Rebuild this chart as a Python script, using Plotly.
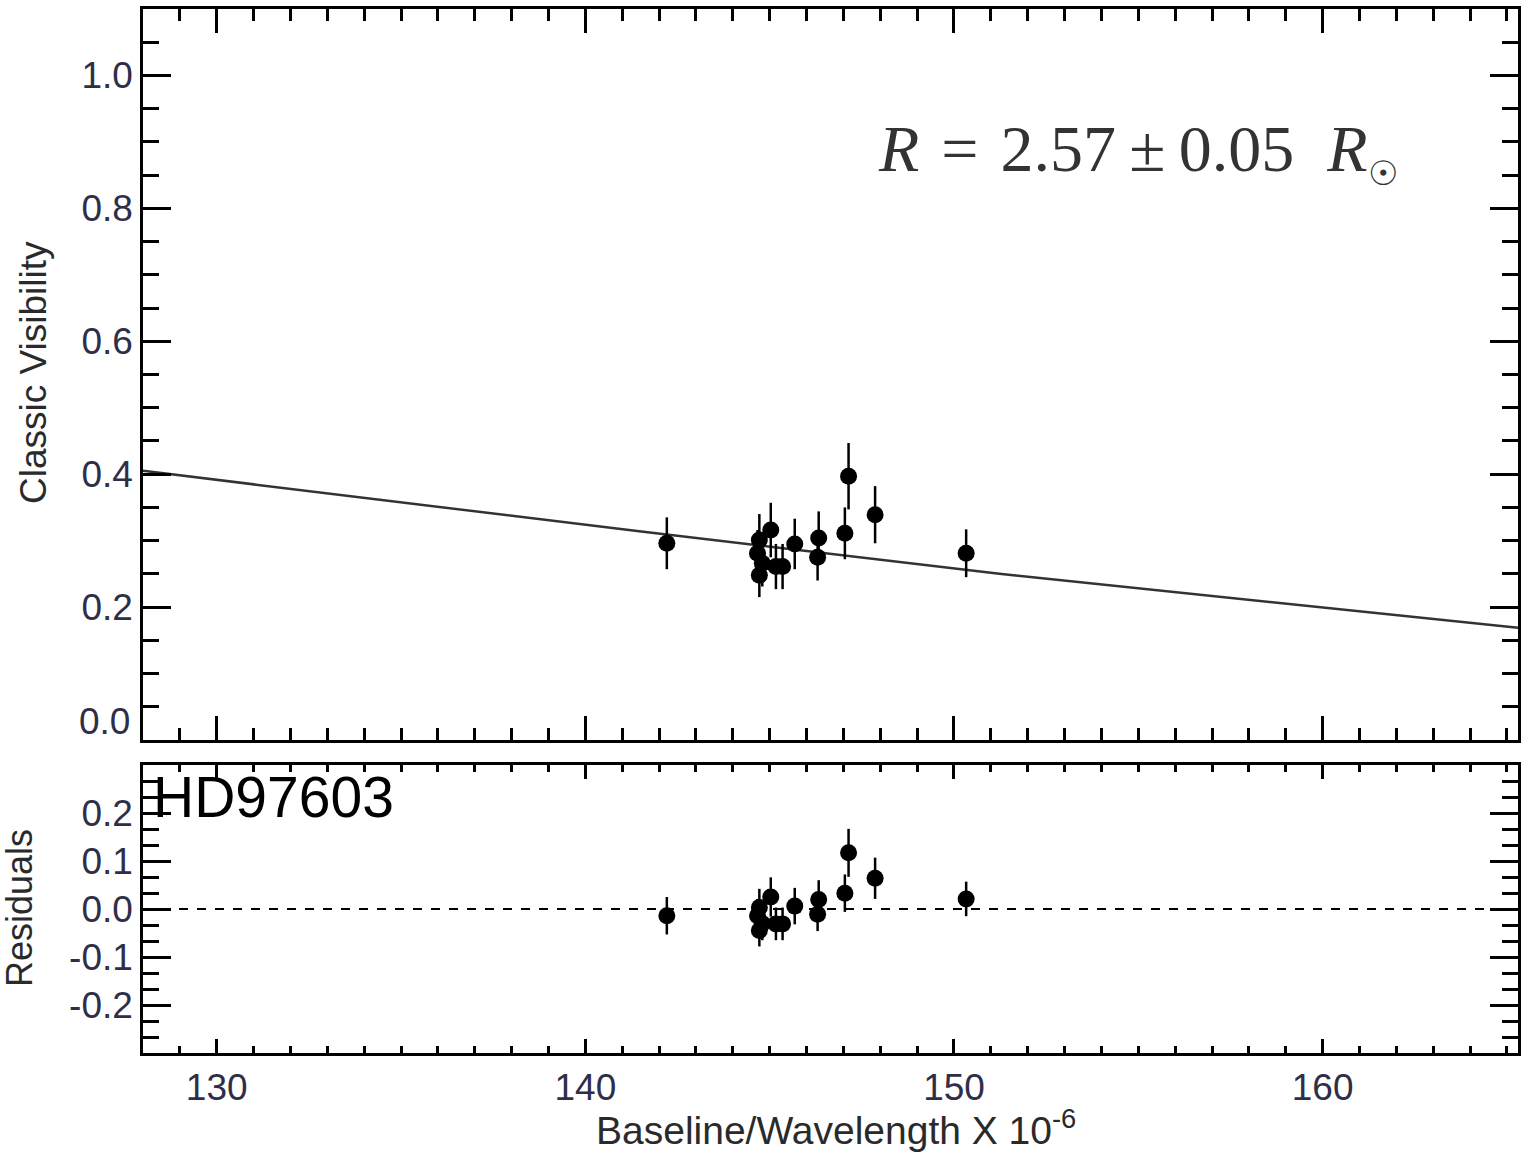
import plotly.graph_objects as go

# ---- data ----
baseline = [142.21, 144.72, 144.67, 144.72, 144.80, 145.03, 145.17, 145.35,
            145.68, 146.33, 146.30, 147.04, 147.14, 147.86, 150.33]
visibility = [0.296, 0.301, 0.281, 0.248, 0.266, 0.316, 0.261, 0.261,
              0.295, 0.304, 0.275, 0.311, 0.397, 0.339, 0.281]
vis_err = [0.039, 0.039, 0.035, 0.033, 0.035, 0.041, 0.034, 0.034,
           0.038, 0.040, 0.035, 0.039, 0.050, 0.043, 0.036]
residuals = [-0.014, 0.003, -0.014, -0.045, -0.030, 0.025, -0.031, -0.031,
             0.006, 0.020, -0.011, 0.033, 0.117, 0.064, 0.021]

model_x = [128.0, 141.46, 151.23, 165.3]
model_v = [0.405, 0.314, 0.250, 0.169]

x_range = [128.0, 165.3]
x_tickvals = [130, 140, 150, 160]
x_ticktext = ["130", "140", "150", "160"]
y1_tickvals = [0.0, 0.2, 0.4, 0.6, 0.8, 1.0]
y1_ticktext = ["", "0.2", "0.4", "0.6", "0.8", "1.0"]
y2_tickvals = [-0.2, -0.1, 0.0, 0.1, 0.2]
y2_ticktext = ["-0.2", "-0.1", "0.0", "0.1", "0.2"]

W, H = 1527, 1152
L, R = 143, 1518
T1, B1 = 9, 740
T2, B2 = 765, 1053

FAM = "Liberation Sans, Arial, sans-serif"
tick_font = dict(family=FAM, size=37, color="#2e2e48")
title_font = dict(family=FAM, size=37, color="#2a2a2a")

fig = go.Figure()

fig.add_trace(go.Scatter(x=model_x, y=model_v, mode="lines",
                         line=dict(color="#333333", width=2.5),
                         xaxis="x", yaxis="y", showlegend=False, hoverinfo="skip"))
fig.add_trace(go.Scatter(x=baseline, y=visibility, mode="markers",
                         marker=dict(color="black", size=17),
                         error_y=dict(type="data", array=vis_err, color="black",
                                      thickness=2.5, width=0),
                         xaxis="x", yaxis="y", showlegend=False))
fig.add_trace(go.Scatter(x=x_range, y=[0, 0], mode="lines",
                         line=dict(color="black", width=2, dash="dash"),
                         xaxis="x2", yaxis="y2", showlegend=False, hoverinfo="skip"))
fig.add_trace(go.Scatter(x=baseline, y=residuals, mode="markers",
                         marker=dict(color="black", size=17),
                         error_y=dict(type="data", array=vis_err, color="black",
                                      thickness=2.5, width=0),
                         xaxis="x2", yaxis="y2", showlegend=False))

xd = [L / W, R / W]
common_x = dict(range=x_range, showgrid=False, zeroline=False, showline=True,
                linecolor="black", linewidth=2.5, mirror="allticks", ticks="inside",
                tickcolor="black", tickwidth=2.5, tickvals=x_tickvals,
                ticktext=x_ticktext, tickfont=tick_font, domain=xd)
fig.update_layout(
    width=W, height=H,
    margin=dict(l=0, r=0, t=0, b=0),
    paper_bgcolor="white", plot_bgcolor="white",
    xaxis=dict(**common_x, anchor="y", ticklen=24, showticklabels=False,
               minor=dict(dtick=1, ticklen=12, ticks="inside", tickcolor="black", tickwidth=2.5, showgrid=False)),
    xaxis2=dict(**common_x, anchor="y2", ticklen=14, showticklabels=True,
                minor=dict(dtick=1, ticklen=7, ticks="inside", tickcolor="black", tickwidth=2.5, showgrid=False)),
    yaxis=dict(range=[0, 1.1], domain=[1 - B1 / H, 1 - T1 / H], anchor="x",
               showgrid=False, zeroline=False, showline=True, linecolor="black",
               linewidth=2.5, mirror="allticks", ticks="inside", ticklen=28,
               tickcolor="black", tickwidth=2.5, tickvals=y1_tickvals,
               ticktext=y1_ticktext, tickfont=tick_font,
               minor=dict(dtick=0.05, ticklen=16, ticks="inside", tickcolor="black", tickwidth=2.5, showgrid=False)),
    yaxis2=dict(range=[-0.3, 0.3], domain=[1 - B2 / H, 1 - T2 / H], anchor="x2",
                showgrid=False, zeroline=False, showline=True, linecolor="black",
                linewidth=2.5, mirror="allticks", ticks="inside", ticklen=28,
                tickcolor="black", tickwidth=2.5, tickvals=y2_tickvals,
                ticktext=y2_ticktext, tickfont=tick_font,
                minor=dict(tick0=0, dtick=0.1 / 3, ticklen=16, ticks="inside", tickcolor="black", tickwidth=2.5, showgrid=False)),
)

# the bottom "0.0" label of the upper panel sits a little above its tick in the original
fig.add_annotation(text="0.0", x=132 / W, y=1 - 721 / H, xref="paper", yref="paper",
                   showarrow=False, font=tick_font, xanchor="right", yanchor="middle")
fig.add_annotation(text="Classic Visibility", x=33 / W, y=1 - 373 / H,
                   xref="paper", yref="paper", textangle=-90, showarrow=False,
                   font=dict(family=FAM, size=37, color="#2a2a2a"), xanchor="center", yanchor="middle")
fig.add_annotation(text="Residuals", x=19 / W, y=1 - 908 / H,
                   xref="paper", yref="paper", textangle=-90, showarrow=False,
                   font=dict(family=FAM, size=36, color="#2a2a2a"), xanchor="center", yanchor="middle")
fig.add_annotation(text="Baseline/Wavelength X 10<sup>-6</sup>", x=836 / W, y=1 - 1127 / H,
                   xref="paper", yref="paper", showarrow=False,
                   font=dict(family=FAM, size=39, color="#2a2a2a"),
                   xanchor="center", yanchor="middle")
fig.add_annotation(text="HD97603", x=151 / W, y=1 - 797 / H,
                   xref="paper", yref="paper", showarrow=False,
                   font=dict(family=FAM, size=57, color="black"),
                   xanchor="left", yanchor="middle")
fig.add_annotation(
    text="<i>R</i>\u2004=\u20042.57\u2009±\u20090.05\u2002<i>R</i><sub><span style=\"font-size:34px\">☉</span></sub>",
    x=876 / W, y=1 - 152 / H, xref="paper", yref="paper", showarrow=False,
    font=dict(family="Liberation Serif, Times New Roman, serif", size=66, color="#333333"),
    xanchor="left", yanchor="middle")

# the page should have no body margin so the 1527x1152 figure fills the window exactly
no_margin = "document.body.style.margin='0px';document.body.style.padding='0px';"

fig.write_html("out.html", post_script=no_margin)
